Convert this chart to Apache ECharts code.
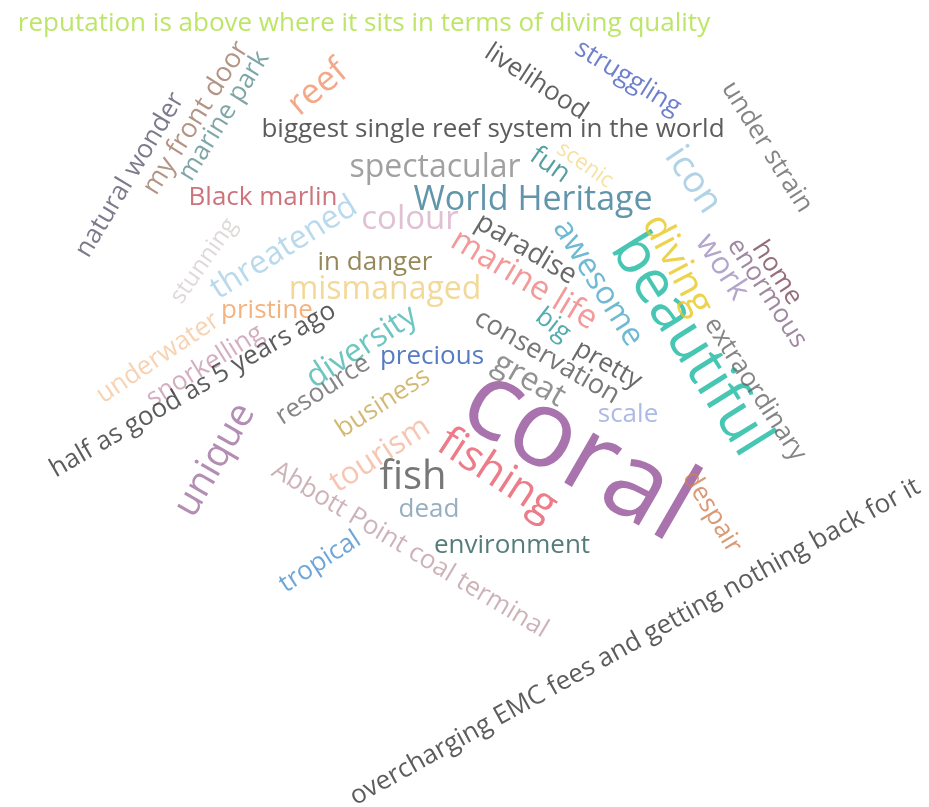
<!DOCTYPE html>
<html>
<head>
<meta charset="utf-8">
<title>Reef word cloud</title>
<script src="https://cdn.jsdelivr.net/npm/echarts@6/dist/echarts.min.js"></script>
<style>
  html, body { margin: 0; padding: 0; background: #ffffff; }
  #main { width: 929px; height: 807px; }
</style>
</head>
<body>
<div id="main"></div>
<script>
  // words and how often they came up
  const words = [
    "reputation is above where it sits in terms of diving quality",
    "natural wonder", "my front door", "marine park", "reef",
    "biggest single reef system in the world", "livelihood", "struggling",
    "under strain", "icon", "spectacular", "fun", "scenic", "World Heritage",
    "Black marlin", "threatened", "colour", "stunning", "in danger",
    "mismanaged", "paradise", "marine life", "awesome", "beautiful", "diving",
    "work", "enormous", "home", "extraordinary", "big", "conservation",
    "pretty", "great", "precious", "diversity", "pristine", "underwater",
    "snorkelling", "half as good as 5 years ago", "resource", "business",
    "unique", "tourism", "fishing", "coral", "scale", "fish", "dead",
    "environment", "Abbott Point coal terminal", "tropical", "despair",
    "overcharging EMC fees and getting nothing back for it"
  ]
  const freq = [
    2, 2, 2.2, 2, 4.7, 2, 2, 2, 2, 5.3, 3.9, 2.2, 0.6, 4.3,
    2, 3.75, 4.1, 1.4, 2, 3.75, 2.4, 4.1, 3.6, 12.5, 5.9, 3.4, 2, 2, 2, 2, 2.1,
    2, 3.75, 2, 3.9, 2, 2, 2, 2, 2, 2, 5.6, 3.4, 7.2, 27.5, 2, 6.25, 2,
    2, 2, 2, 2, 2
  ]
  // layout position of each word (cloud coordinates)
  const xs = [
    364, 130, 196, 224, 318, 493, 536, 628, 767, 693, 435, 550, 585, 533,
    263, 284, 410, 204, 375, 385, 526, 524, 598, 690, 677, 722, 767, 777,
    755, 553, 547, 608, 529, 432, 362, 267, 158, 205, 193, 323, 383, 215,
    380, 497, 578, 628, 413, 429, 512, 410, 320, 712, 635
  ]
  const ys = [
    24, 175, 118, 116, 88, 130, 82, 78, 147, 180, 168, 165, 165, 200,
    198, 248, 220, 261, 263, 290, 249, 280, 283, 345, 265, 267, 293, 273,
    389, 325, 357, 365, 380, 357, 347, 311, 358, 366, 390, 390, 403, 460,
    455, 475, 455, 415, 478, 510, 546, 550, 562, 512, 642
  ]
  const angles = [
    0, 59, 58, 58, 40, 0, -33, -32, -58, -56, 0, -35, -35, 0,
    0, 32, 0, 55, 0, 0, -31, -31, -58, -58, -62, -57, -57, -57,
    -57, -38, -30, -30, -30, 0, 33, 0, 34, 32, 30, 33, 33, 60,
    33, -33, -30, 0, 0, 0, 0, -31, 33, -59, 29
  ]
  const colors = [
    "#ace044", "#5b5a70", "#a07a68", "#5e9090", "#f0946a", "#333333",
    "#3a3a3a", "#4a5fc0", "#666666", "#9cc8e0", "#8a8a8a", "#2a8a8a",
    "#f5d98a", "#3a7a95", "#c0505a", "#a8d0e8", "#d8b0c8", "#d8d0d0",
    "#7a6a30", "#f0d080", "#444444", "#f08080", "#4aa8c8", "#18b8a0",
    "#e8c820", "#a090c0", "#8a6a8a", "#7a4a5a", "#666666", "#2a9a9a",
    "#555555", "#444444", "#777777", "#2a5ab0", "#4ab8b0", "#f0a060",
    "#f5c8a0", "#c898b0", "#333333", "#666666", "#c8a850", "#a070a0",
    "#f5b8a0", "#e85a6a", "#93509a", "#98a8e0", "#555555", "#7a9ab0",
    "#2a5a5a", "#c0a0a8", "#4a90d0", "#d08050", "#333333"
  ]

  let chart = echarts.init(document.getElementById("main"))

  let points = words.map(function (w, i) {
    return {
      name: w,
      value: [xs[i], ys[i], freq[i]],
      label: {
        rotate: angles[i],
        color: colors[i],
        fontSize: Math.round(20 + freq[i] * 3.2)
      }
    }
  })

  chart.setOption({
    animation: false,
    grid: { left: 0, right: 0, top: 0, bottom: 0 },
    xAxis: { type: "value", min: 0, max: 929, show: false },
    yAxis: { type: "value", min: 0, max: 807, inverse: true, show: false },
    series: [
      {
        type: "scatter",
        symbolSize: 0,
        silent: true,
        data: points,
        label: {
          show: true,
          position: "inside",
          align: "center",
          verticalAlign: "middle",
          fontFamily: "Open Sans",
          formatter: "{b}"
        }
      }
    ]
  })
</script>
</body>
</html>
